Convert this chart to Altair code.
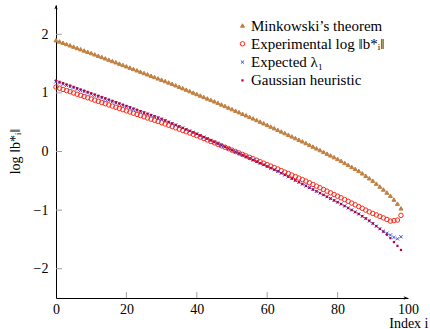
import altair as alt
import pandas as pd

# ---------------- data ----------------
index = list(range(99))

minkowski = [
    1.900, 1.878, 1.856, 1.834, 1.812, 1.790, 1.768, 1.746, 1.724, 1.702,
    1.680, 1.658, 1.635, 1.613, 1.590, 1.568, 1.545, 1.523, 1.500, 1.478,
    1.455, 1.432, 1.409, 1.386, 1.363, 1.340, 1.317, 1.294, 1.271, 1.248,
    1.225, 1.202, 1.179, 1.156, 1.131, 1.106, 1.081, 1.056, 1.031, 1.006,
    0.981, 0.956, 0.931, 0.906, 0.881, 0.856, 0.830, 0.803, 0.777, 0.750,
    0.724, 0.697, 0.671, 0.644, 0.618, 0.591, 0.565, 0.538, 0.510, 0.482,
    0.454, 0.426, 0.398, 0.370, 0.342, 0.314, 0.286, 0.258, 0.230, 0.202,
    0.174, 0.144, 0.114, 0.084, 0.054, 0.024, -0.006, -0.036, -0.066, -0.096,
    -0.126, -0.160, -0.194, -0.228, -0.262, -0.296, -0.330, -0.372, -0.414, -0.456,
    -0.498, -0.548, -0.598, -0.648, -0.700, -0.755, -0.820, -0.890, -0.970,
]

experimental = [
    1.100, 1.080, 1.059, 1.039, 1.019, 0.998, 0.978, 0.958, 0.938, 0.917,
    0.897, 0.877, 0.856, 0.836, 0.816, 0.795, 0.775, 0.755, 0.735, 0.714,
    0.694, 0.674, 0.653, 0.633, 0.613, 0.592, 0.572, 0.552, 0.532, 0.511,
    0.491, 0.469, 0.447, 0.425, 0.403, 0.381, 0.359, 0.337, 0.315, 0.293,
    0.271, 0.246, 0.222, 0.197, 0.172, 0.148, 0.123, 0.098, 0.073, 0.049,
    0.024, -0.001, -0.025, -0.050, -0.075, -0.100, -0.124, -0.149, -0.174, -0.199,
    -0.224, -0.249, -0.274, -0.299, -0.325, -0.351, -0.376, -0.402, -0.428, -0.454,
    -0.480, -0.505, -0.534, -0.562, -0.591, -0.619, -0.648, -0.676, -0.705, -0.733,
    -0.762, -0.790, -0.820, -0.850, -0.880, -0.910, -0.940, -0.970, -1.000, -1.030,
    -1.057, -1.082, -1.107, -1.133, -1.160, -1.188, -1.180, -1.170, -1.090,
]

expected = [
    1.190, 1.169, 1.147, 1.126, 1.105, 1.084, 1.062, 1.041, 1.020, 0.998,
    0.977, 0.956, 0.934, 0.913, 0.892, 0.871, 0.849, 0.828, 0.807, 0.785,
    0.764, 0.743, 0.721, 0.700, 0.679, 0.658, 0.636, 0.615, 0.594, 0.572,
    0.551, 0.526, 0.501, 0.476, 0.451, 0.426, 0.401, 0.376, 0.351, 0.326,
    0.301, 0.273, 0.245, 0.218, 0.190, 0.162, 0.134, 0.106, 0.079, 0.051,
    0.023, -0.005, -0.033, -0.060, -0.088, -0.116, -0.144, -0.172, -0.199, -0.227,
    -0.255, -0.283, -0.311, -0.338, -0.369, -0.400, -0.431, -0.462, -0.493, -0.524,
    -0.555, -0.586, -0.617, -0.648, -0.679, -0.710, -0.741, -0.772, -0.803, -0.834,
    -0.865, -0.896, -0.930, -0.964, -0.998, -1.032, -1.066, -1.105, -1.145, -1.185,
    -1.230, -1.275, -1.320, -1.360, -1.395, -1.425, -1.465, -1.490, -1.455,
]

gaussian = [
    1.210, 1.189, 1.167, 1.146, 1.125, 1.103, 1.081, 1.060, 1.039, 1.017,
    0.995, 0.974, 0.952, 0.930, 0.909, 0.887, 0.865, 0.843, 0.822, 0.800,
    0.778, 0.756, 0.734, 0.712, 0.690, 0.668, 0.646, 0.624, 0.602, 0.580,
    0.558, 0.532, 0.506, 0.480, 0.455, 0.429, 0.403, 0.378, 0.352, 0.327,
    0.302, 0.273, 0.245, 0.218, 0.190, 0.162, 0.134, 0.106, 0.079, 0.051,
    0.023, -0.005, -0.033, -0.060, -0.088, -0.116, -0.144, -0.172, -0.199, -0.227,
    -0.255, -0.283, -0.311, -0.338, -0.369, -0.400, -0.431, -0.462, -0.493, -0.524,
    -0.555, -0.586, -0.617, -0.648, -0.679, -0.710, -0.741, -0.772, -0.803, -0.834,
    -0.865, -0.896, -0.930, -0.964, -0.998, -1.032, -1.066, -1.103, -1.141, -1.180,
    -1.225, -1.272, -1.320, -1.368, -1.420, -1.478, -1.545, -1.610, -1.680,
]

series_names = [
    "Minkowski\u2019s theorem",
    "Experimental log \u2016b*\u1d62\u2016",
    "Expected \u03bb\u2081",
    "Gaussian heuristic",
]
series_values = [minkowski, experimental, expected, gaussian]

x_domain = [0, 100]
y_domain = [-2.5, 2.5]
x_label_values = [0, 20, 40, 60, 80, 100]
x_tick_values = [20, 40, 60, 80]
y_tick_values = [-2, -1, 0, 1, 2]

# ---------------- styling ----------------
FONT = "Liberation Serif"
W, H = 352, 293
stroke_colors = ["#c08040", "#ff2a1a", "#3a4fd0", "transparent"]
fill_colors = ["#c08040", "transparent", "#3a4fd0", "#bf0040"]
X_PATH = "M-1,-1L1,1M-1,1L1,-1"
shapes = ["triangle-up", "circle", X_PATH, "square"]
sizes = [16, 20, 10, 5]

rows = []
for name, vals in zip(series_names, series_values):
    for i, v in zip(index, vals):
        rows.append({"series": name, "i": i, "v": v})
df = pd.DataFrame(rows)

xs = alt.Scale(domain=x_domain, nice=False, zero=False)
ys = alt.Scale(domain=y_domain, nice=False, zero=False)

x_axis = alt.Axis(
    values=x_label_values, ticks=False, grid=False, domainColor="black",
    domainWidth=1, labelFont=FONT, labelFontSize=14, labelColor="black",
    labelPadding=4, labelFlush=False, title="Index i", titleFont=FONT,
    titleFontSize=14, titleFontWeight="normal", titleColor="black",
    titleAlign="right", titleBaseline="alphabetic", titleX=372, titleY=29,
    titleAngle=0)
y_axis = alt.Axis(
    values=y_tick_values, ticks=False, grid=False, domainColor="black",
    domainWidth=1, labelFont=FONT, labelFontSize=14, labelColor="black",
    labelPadding=8, format="d", title="log \u2016b*\u1d62\u2016",
    titleFont=FONT, titleFontSize=14, titleFontWeight="normal",
    titleColor="black", titleAngle=270, titleAlign="center",
    titleBaseline="middle", titleX=-41, titleY=146)

leg = alt.Legend(
    title=None, orient="none", legendX=179, legendY=13,
    labelFont=FONT, labelFontSize=15, labelColor="black",
    labelOffset=1, rowPadding=2.3, padding=0,
    symbolStrokeWidth=1, symbolOpacity=1,
)

points = alt.Chart(df).mark_point(strokeWidth=1, opacity=1).encode(
    x=alt.X("i:Q", scale=xs, axis=x_axis),
    y=alt.Y("v:Q", scale=ys, axis=y_axis),
    shape=alt.Shape("series:N", scale=alt.Scale(domain=series_names, range=shapes), legend=leg),
    stroke=alt.Stroke("series:N", scale=alt.Scale(domain=series_names, range=stroke_colors), legend=leg),
    fill=alt.Fill("series:N", scale=alt.Scale(domain=series_names, range=fill_colors), legend=leg),
    size=alt.Size("series:N", scale=alt.Scale(type="ordinal", domain=series_names, range=sizes), legend=leg),
)

xt = pd.DataFrame({"i": x_tick_values})
yt = pd.DataFrame({"v": y_tick_values})
x_ticks = alt.Chart(xt).mark_rule(color="#a0a0a0", strokeWidth=1).encode(
    x=alt.X("i:Q", scale=xs, axis=x_axis), y=alt.value(H), y2=alt.value(H - 6))
y_ticks = alt.Chart(yt).mark_rule(color="#a0a0a0", strokeWidth=1).encode(
    y=alt.Y("v:Q", scale=ys, axis=y_axis), x=alt.value(0), x2=alt.value(6))

arrow_up = "M0,0L0.7,1.8L0,1.3L-0.7,1.8Z"
arrow_right = "M0,0L-1.8,-0.7L-1.3,0L-1.8,0.7Z"
xa = pd.DataFrame({"i": [x_domain[1]], "v": [y_domain[0]]})
ya = pd.DataFrame({"i": [x_domain[0]], "v": [y_domain[1]]})
x_arrow = alt.Chart(xa).mark_point(shape=arrow_right, filled=True, color="black", size=25, opacity=1).encode(
    x=alt.X("i:Q", scale=xs, axis=x_axis), y=alt.Y("v:Q", scale=ys, axis=y_axis))
y_arrow = alt.Chart(ya).mark_point(shape=arrow_up, filled=True, color="black", size=25, opacity=1).encode(
    x=alt.X("i:Q", scale=xs, axis=x_axis), y=alt.Y("v:Q", scale=ys, axis=y_axis))

chart = alt.layer(points, x_ticks, y_ticks, x_arrow, y_arrow).properties(
    width=W, height=H,
    autosize=alt.AutoSizeParams(type="none"),
    padding={"left": 56, "top": 5, "right": 22, "bottom": 31},
    background="white",
).configure_view(stroke=None)

chart.save("out.html", embed_options={"renderer": "svg", "actions": False})
